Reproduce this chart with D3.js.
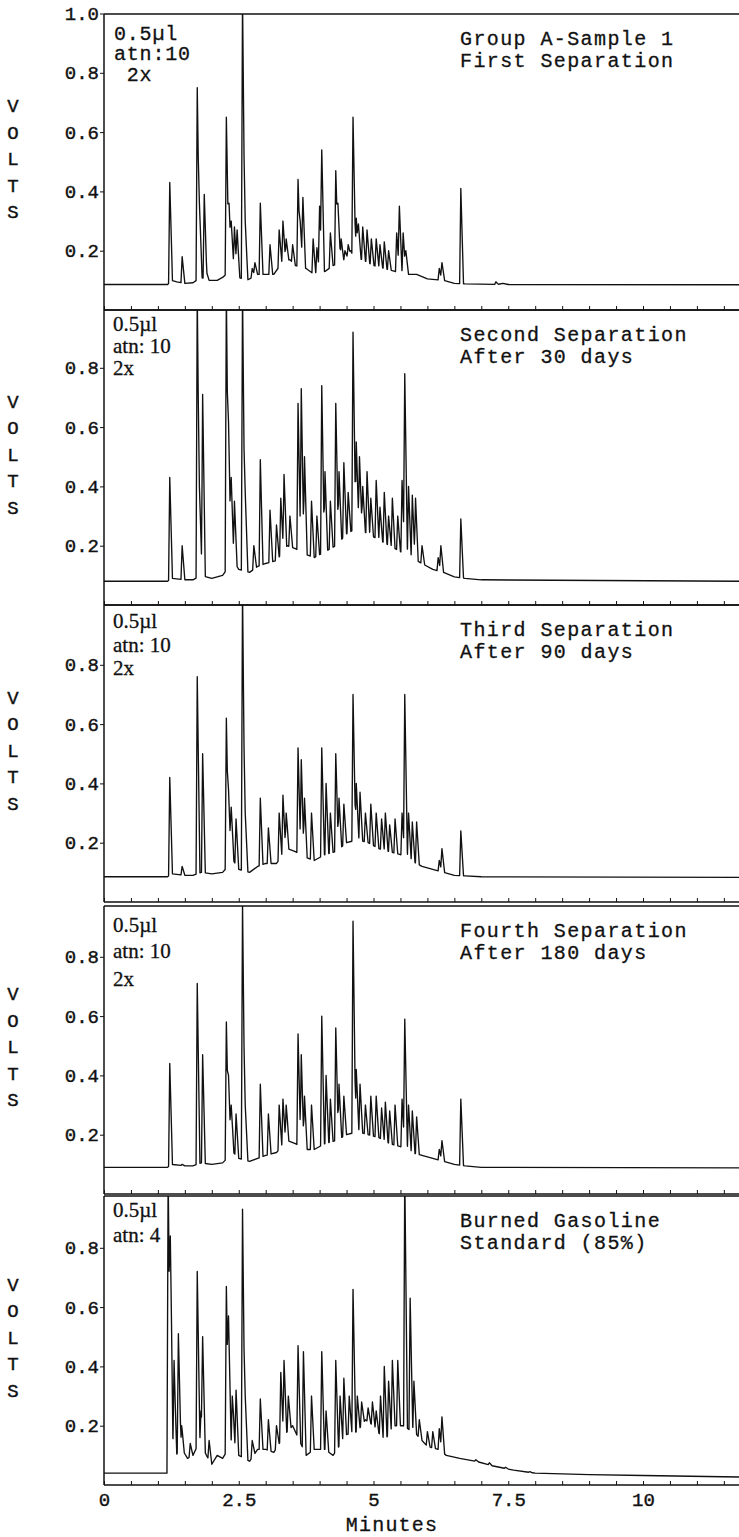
<!DOCTYPE html>
<html>
<head>
<meta charset="utf-8">
<script src="https://cdn.jsdelivr.net/npm/d3@7"></script>
<style>
  body { margin: 0; background: #fff; }
  text { fill: #111; }
</style>
</head>
<body>
<script>
// ---- data ----
const minuteTicks = [0, 2.5, 5, 7.5, 10];
const voltTicks = [0.2, 0.4, 0.6, 0.8];
const voltTicksFirst = [0.2, 0.4, 0.6, 0.8, 1.0];

const panelTitles = [
  ["Group A-Sample 1", "First Separation"],
  ["Second Separation", "After 30 days"],
  ["Third Separation", "After 90 days"],
  ["Fourth Separation", "After 180 days"],
  ["Burned Gasoline", "Standard (85%)"]
];
const panelNotes = [
  ["0.5\u00b5l", "atn:10", " 2x"],
  ["0.5\u00b5l", "atn: 10", "2x"],
  ["0.5\u00b5l", "atn: 10", "2x"],
  ["0.5\u00b5l", "atn: 10", "2x"],
  ["0.5\u00b5l", "atn: 4"]
];

// valley line (minutes, volts)
const base1 = [[0,0.086],[1.18,0.086],[1.25,0.1],[1.35,0.095],[1.5,0.09],[1.65,0.092],[1.8,0.11],[1.95,0.1],[2.1,0.1],[2.2,0.11],[2.4,0.14],[2.5,0.11],[2.65,0.1],[2.75,0.11],[2.85,0.12],[3.0,0.12],[3.15,0.12],[3.3,0.16],[3.45,0.17],[3.55,0.15],[3.75,0.14],[3.9,0.12],[4.1,0.13],[4.25,0.15],[4.4,0.16],[4.55,0.18],[4.8,0.17],[5.0,0.15],[5.2,0.14],[5.4,0.13],[5.6,0.12],[5.8,0.12],[6.0,0.105],[6.3,0.1],[6.5,0.09],[6.7,0.088],[7.3,0.086],[7.4,0.09],[7.5,0.086],[11.8,0.085]];
const base2 = [[0,0.08],[1.18,0.08],[1.25,0.09],[1.5,0.085],[1.65,0.085],[1.8,0.1],[2.0,0.09],[2.2,0.1],[2.4,0.15],[2.5,0.12],[2.7,0.11],[2.85,0.13],[3.0,0.14],[3.2,0.15],[3.4,0.2],[3.55,0.19],[3.75,0.17],[3.9,0.16],[4.1,0.18],[4.3,0.2],[4.5,0.24],[4.7,0.26],[4.9,0.24],[5.1,0.22],[5.3,0.2],[5.5,0.18],[5.7,0.16],[5.9,0.14],[6.1,0.12],[6.3,0.11],[6.5,0.095],[6.7,0.09],[7.0,0.085],[11.8,0.08]];
const base3 = [[0,0.085],[1.18,0.085],[1.25,0.095],[1.5,0.09],[1.65,0.09],[1.8,0.1],[2.0,0.095],[2.2,0.1],[2.4,0.14],[2.5,0.11],[2.7,0.1],[2.85,0.12],[3.0,0.13],[3.2,0.13],[3.4,0.18],[3.55,0.17],[3.75,0.15],[3.9,0.14],[4.1,0.16],[4.3,0.17],[4.5,0.2],[4.7,0.21],[4.9,0.2],[5.1,0.18],[5.3,0.17],[5.5,0.16],[5.7,0.14],[5.9,0.12],[6.1,0.11],[6.3,0.1],[6.5,0.09],[6.7,0.088],[7.0,0.085],[11.8,0.083]];
const base4 = [[0,0.09],[1.18,0.09],[1.25,0.1],[1.5,0.095],[1.65,0.095],[1.8,0.105],[2.0,0.1],[2.2,0.105],[2.4,0.14],[2.5,0.12],[2.7,0.11],[2.85,0.12],[3.0,0.13],[3.2,0.14],[3.4,0.18],[3.55,0.17],[3.75,0.15],[3.9,0.15],[4.1,0.17],[4.3,0.18],[4.5,0.2],[4.7,0.21],[4.9,0.2],[5.1,0.19],[5.3,0.17],[5.5,0.16],[5.7,0.14],[5.9,0.13],[6.1,0.12],[6.3,0.11],[6.5,0.1],[6.7,0.095],[7.0,0.09],[11.8,0.088]];
const base5 = [[0,0.04],[1.17,0.04],[1.25,0.15],[1.32,0.1],[1.45,0.12],[1.55,0.09],[1.65,0.1],[1.78,0.15],[1.9,0.1],[2.0,0.07],[2.1,0.1],[2.2,0.09],[2.4,0.15],[2.5,0.1],[2.7,0.08],[2.85,0.12],[3.0,0.12],[3.15,0.11],[3.35,0.17],[3.5,0.2],[3.75,0.1],[3.9,0.12],[4.1,0.12],[4.25,0.1],[4.5,0.17],[4.7,0.18],[4.85,0.22],[5.0,0.2],[5.2,0.15],[5.4,0.2],[5.55,0.2],[5.8,0.17],[6.0,0.13],[6.2,0.12],[6.35,0.1],[6.6,0.09],[6.9,0.08],[7.2,0.065],[7.6,0.05],[8.0,0.04],[9.0,0.035],[10.0,0.032],[11.8,0.027]];

// peak apexes (minutes, volts)
const peaks1 = [[1.22,0.43],[1.45,0.18],[1.73,0.75],[1.77,0.36],[1.86,0.39],[1.9,0.13],[2.27,0.65],[2.32,0.36],[2.36,0.3],[2.42,0.28],[2.47,0.27],[2.57,1.05],[2.62,0.3],[2.75,0.14],[2.8,0.16],[2.9,0.36],[3.08,0.22],[3.25,0.27],[3.32,0.3],[3.38,0.24],[3.5,0.22],[3.6,0.44],[3.64,0.3],[3.69,0.38],[3.88,0.24],[3.95,0.21],[4.0,0.35],[4.04,0.54],[4.2,0.26],[4.3,0.47],[4.34,0.36],[4.4,0.24],[4.47,0.2],[4.53,0.22],[4.58,0.2],[4.62,0.65],[4.68,0.31],[4.72,0.29],[4.8,0.28],[4.88,0.27],[4.96,0.24],[5.05,0.24],[5.12,0.22],[5.2,0.23],[5.28,0.2],[5.43,0.26],[5.48,0.35],[5.55,0.26],[5.6,0.2],[6.22,0.14],[6.27,0.16],[6.62,0.41],[7.27,0.095]];
const peaks2 = [[1.22,0.43],[1.45,0.2],[1.73,1.05],[1.77,0.4],[1.83,0.71],[2.27,1.05],[2.31,0.62],[2.36,0.43],[2.42,0.35],[2.57,1.05],[2.62,0.38],[2.78,0.2],[2.9,0.49],[3.08,0.32],[3.2,0.27],[3.28,0.36],[3.34,0.44],[3.45,0.3],[3.6,0.68],[3.66,0.73],[3.72,0.5],[3.85,0.35],[3.95,0.3],[4.04,0.74],[4.1,0.45],[4.2,0.35],[4.3,0.68],[4.36,0.45],[4.45,0.48],[4.53,0.38],[4.62,0.92],[4.68,0.55],[4.74,0.5],[4.8,0.4],[4.88,0.45],[4.95,0.36],[5.05,0.42],[5.12,0.33],[5.2,0.38],[5.28,0.3],[5.35,0.36],[5.45,0.3],[5.53,0.42],[5.58,0.78],[5.65,0.4],[5.72,0.37],[5.78,0.36],[5.9,0.2],[6.2,0.16],[6.25,0.2],[6.62,0.29]];
const peaks3 = [[1.22,0.42],[1.45,0.12],[1.73,0.76],[1.83,0.5],[2.27,0.62],[2.31,0.38],[2.36,0.32],[2.45,0.28],[2.57,1.05],[2.62,0.3],[2.9,0.35],[3.05,0.25],[3.25,0.3],[3.32,0.36],[3.38,0.3],[3.6,0.52],[3.66,0.48],[3.72,0.35],[3.85,0.3],[4.04,0.52],[4.12,0.4],[4.2,0.3],[4.3,0.5],[4.36,0.35],[4.45,0.33],[4.62,0.7],[4.68,0.4],[4.75,0.37],[4.85,0.3],[4.95,0.33],[5.05,0.3],[5.15,0.28],[5.22,0.3],[5.3,0.26],[5.4,0.28],[5.53,0.3],[5.58,0.7],[5.65,0.3],[5.72,0.27],[5.8,0.27],[6.22,0.14],[6.27,0.18],[6.62,0.24]];
const peaks4 = [[1.22,0.44],[1.45,0.1],[1.73,0.71],[1.83,0.47],[2.27,0.58],[2.31,0.4],[2.36,0.3],[2.45,0.27],[2.57,0.98],[2.62,0.3],[2.9,0.37],[3.05,0.27],[3.25,0.3],[3.32,0.32],[3.38,0.3],[3.6,0.54],[3.66,0.47],[3.72,0.33],[3.85,0.3],[4.04,0.6],[4.12,0.4],[4.2,0.32],[4.3,0.56],[4.36,0.37],[4.45,0.33],[4.62,0.92],[4.68,0.42],[4.75,0.37],[4.85,0.3],[4.95,0.33],[5.05,0.33],[5.15,0.29],[5.22,0.31],[5.3,0.28],[5.4,0.3],[5.53,0.32],[5.58,0.59],[5.65,0.3],[5.72,0.28],[5.8,0.26],[6.22,0.15],[6.27,0.18],[6.62,0.32]];
const peaks5 = [[1.19,1.05],[1.23,0.84],[1.3,0.42],[1.38,0.51],[1.44,0.2],[1.6,0.14],[1.73,0.72],[1.8,0.25],[1.83,0.5],[1.95,0.15],[2.27,0.67],[2.31,0.57],[2.38,0.3],[2.45,0.32],[2.57,0.93],[2.62,0.3],[2.75,0.15],[2.9,0.29],[3.05,0.22],[3.2,0.2],[3.28,0.38],[3.34,0.42],[3.42,0.3],[3.6,0.47],[3.7,0.45],[3.85,0.3],[4.04,0.45],[4.12,0.25],[4.3,0.42],[4.38,0.3],[4.45,0.36],[4.55,0.3],[4.62,0.66],[4.7,0.3],[4.78,0.28],[4.9,0.26],[4.98,0.28],[5.05,0.25],[5.13,0.3],[5.2,0.4],[5.28,0.35],[5.35,0.42],[5.45,0.42],[5.58,1.05],[5.68,0.63],[5.75,0.35],[5.85,0.22],[6.0,0.18],[6.1,0.18],[6.22,0.19],[6.27,0.23],[6.9,0.085],[7.15,0.075],[7.45,0.06],[7.9,0.045]];

const baselines = [base1, base2, base3, base4, base5];
const peakSets = [peaks1, peaks2, peaks3, peaks4, peaks5];

// ---- layout ----
const W = 739, H = 1537;
const left = 104, right = 739;
const voltPx = 296.5;
const panels = [
  {top: 14, bottom: 310},
  {top: 310, bottom: 605},
  {top: 605, bottom: 902},
  {top: 906, bottom: 1194},
  {top: 1196, bottom: 1485}
];
const mono = "'Liberation Mono', 'DejaVu Sans Mono', monospace";
const serif = "'Liberation Serif', 'DejaVu Serif', serif";

var svg = d3.select("body").append("svg")
  .attr("width", W).attr("height", H)
  .attr("viewBox", `0 0 ${W} ${H}`);

var x = d3.scaleLinear().domain([0, 10]).range([left, 643]);

// builds trace vertices from valley line + peak apexes
function traceOf(base, peaks) {
  var baseAt = d3.scaleLinear().domain(base.map(d => d[0])).range(base.map(d => d[1])).clamp(true);
  var riseW = 0.022, fallW = 0.05;
  var shape = (p, t) => {
    if (t < p[0] - riseW || t > p[0] + fallW) return 0;
    return t <= p[0] ? (t - (p[0] - riseW)) / riseW : 1 - (t - p[0]) / fallW;
  };
  var ts = new Set(base.map(d => d[0]));
  peaks.forEach(p => { ts.add(p[0] - riseW); ts.add(p[0]); ts.add(p[0] + fallW); });
  var times = Array.from(ts).sort((a, b) => a - b);
  return times.map(t => {
    var v = baseAt(t);
    var top = v;
    peaks.forEach(p => {
      var s = shape(p, t);
      if (s > 0) top = Math.max(top, v + (p[1] - baseAt(p[0])) * s);
    });
    return [t, top];
  });
}

// heavier typewriter look
function ink(sel, w) {
  sel.attr("stroke", "#111").attr("stroke-width", w).attr("paint-order", "stroke");
}

panels.forEach((pn, i) => {
  var y = d3.scaleLinear().domain([0, 1]).range([pn.bottom, pn.bottom - voltPx]);
  var g = svg.append("g").attr("class", "panel");

  g.append("clipPath").attr("id", "clip" + i)
    .append("rect")
    .attr("x", left).attr("y", pn.top)
    .attr("width", right - left).attr("height", pn.bottom - pn.top);

  var line = d3.line().x(d => x(d[0])).y(d => y(d[1]));
  g.append("path")
    .attr("clip-path", `url(#clip${i})`)
    .attr("d", line(traceOf(baselines[i], peakSets[i])))
    .attr("fill", "none")
    .attr("stroke", "#111")
    .attr("stroke-width", 1.35)
    .attr("stroke-linejoin", "round");

  // frame
  g.append("line").attr("x1", left).attr("x2", right).attr("y1", pn.top).attr("y2", pn.top)
    .attr("stroke", "#111").attr("stroke-width", 1.5);
  g.append("line").attr("x1", left).attr("x2", left).attr("y1", pn.top).attr("y2", pn.bottom)
    .attr("stroke", "#111").attr("stroke-width", 1.5);

  // bottom axis, ticks every half minute pointing inward
  var xAxis = d3.axisBottom(x)
    .tickValues(d3.range(0, 12, 0.5))
    .tickSizeInner(-4).tickSizeOuter(0)
    .tickFormat("");
  var xa = g.append("g").attr("transform", `translate(0,${pn.bottom})`).call(xAxis);
  xa.select(".domain").attr("d", `M${left},0H${right}`).attr("stroke-width", 1.5).attr("stroke", "#111");
  xa.selectAll(".tick line").attr("stroke", "#111");

  if (i === panels.length - 1) {
    var labelAxis = d3.axisBottom(x)
      .tickValues(minuteTicks)
      .tickSize(0).tickPadding(8)
      .tickFormat(d => String(d));
    var la = g.append("g").attr("transform", `translate(0,${pn.bottom})`).call(labelAxis);
    la.select(".domain").remove();
    la.selectAll("text").attr("font-family", mono).attr("font-size", 19).call(ink, 0.4);
  }

  // left axis
  var yAxis = d3.axisLeft(y)
    .tickValues(i === 0 ? voltTicksFirst : voltTicks)
    .tickSize(4).tickPadding(1)
    .tickFormat(d3.format(".1f"));
  var ya = g.append("g").attr("transform", `translate(${left},0)`).call(yAxis);
  ya.select(".domain").remove();
  ya.selectAll(".tick line").attr("stroke", "#111");
  ya.selectAll("text").attr("font-family", mono).attr("font-size", 19).call(ink, 0.4);

  // VOLTS
  var mid = (pn.top + pn.bottom) / 2 - 4;
  "VOLTS".split("").forEach((ch, k) => {
    g.append("text")
      .attr("x", 13).attr("y", mid + (k - 2) * 26.5 + 7)
      .attr("text-anchor", "middle")
      .attr("font-family", mono).attr("font-size", 19)
      .call(ink, 0.4)
      .text(ch);
  });

  // titles
  panelTitles[i].forEach((s, k) => {
    g.append("text")
      .attr("x", 460).attr("y", pn.top + 31 + k * 22)
      .attr("font-family", mono).attr("font-size", 20)
      .attr("letter-spacing", 1.4)
      .call(ink, 0.3)
      .text(s);
  });

  // sample notes
  var noteY = [[26, 46, 67], [21, 43, 65], [23, 47, 70], [26, 52, 80], [21, 46]][i];
  panelNotes[i].forEach((s, k) => {
    g.append("text")
      .attr("x", i === 0 ? 114 : 113)
      .attr("y", pn.top + noteY[k])
      .attr("font-family", i === 0 ? mono : serif)
      .attr("font-size", i === 0 ? 20 : 21)
      .attr("letter-spacing", i === 0 ? 0.8 : 0)
      .style("white-space", "pre")
      .call(ink, 0.3)
      .text(s);
  });
});

svg.append("text")
  .attr("x", 392).attr("y", 1531)
  .attr("text-anchor", "middle")
  .attr("font-family", mono).attr("font-size", 20)
  .attr("letter-spacing", 1.2)
  .call(ink, 0.3)
  .text("Minutes");
</script>
</body>
</html>
